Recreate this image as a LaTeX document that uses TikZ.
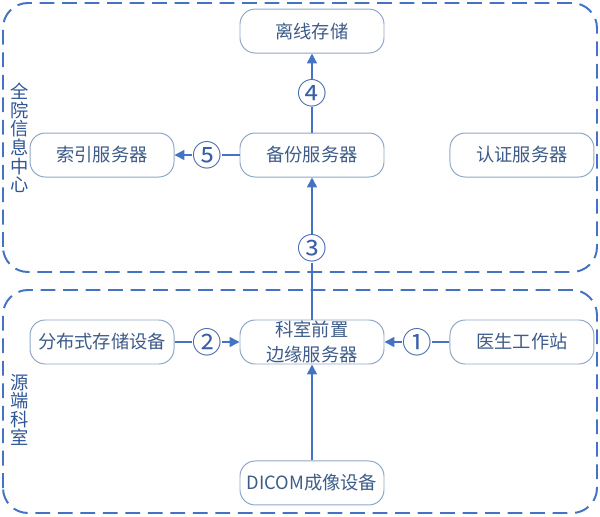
\documentclass[tikz,border=0pt]{standalone}
\usepackage{fontspec}
\setmainfont{Noto Sans CJK SC}
\usetikzlibrary{positioning,arrows.meta}
\definecolor{linkblue}{HTML}{4472C4}
\definecolor{boxline}{HTML}{8EA6C6}
\definecolor{boxtext}{HTML}{3E5C88}
\definecolor{areatext}{HTML}{2F5597}
\definecolor{numtext}{HTML}{3A5FA8}
\begin{document}
\begin{tikzpicture}[node distance={1.625cm}, font=\fontsize{13pt}{15pt}\selectfont,
  main/.style = {draw=boxline, line width=0.7pt, rounded corners=0.38cm, minimum width=3.6cm, minimum height=1.1cm, inner sep=0pt, text=boxtext, align=center},
  link/.style = {draw=linkblue, line width=1.1pt, -{Triangle[length=7pt,width=7pt]}},
  num/.style = {fill=white, inner sep=0.3pt, text=numtext, font=\fontsize{21pt}{21pt}\selectfont},
  area/.style = {draw=linkblue, line width=1.4pt, dash pattern=on 10.5pt off 5.5pt, rounded corners=0.625cm},
  side/.style = {text=areatext, align=center, inner sep=0pt, font=\fontsize{13pt}{13.2pt}\selectfont}]
\useasboundingbox (-7.8,-4.375) rectangle (7.2,8.55);
% areas
\draw[area] (-7.725,1.75) rectangle (7.125,8.475);
\draw[area] (-7.725,-4.275) rectangle (7.125,1.3);
\node[side] (qy) at (-7.3,5.1) {全\\院\\信\\息\\中\\心};
\node[side] (yd) at (-7.3,-1.7) {源\\端\\科\\室};
% boxes
\node[main, font=\fontsize{13pt}{17.5pt}\selectfont] (ks) {科室前置\\边缘服务器};
\node[main] (fb) [left=of ks] {分布式存储设备};
\node[main] (ys) [right=of ks] {医生工作站};
\node[main] (dc) [below=2.4cm of ks] {DICOM成像设备};
\node[main] (bf) [above=3.55cm of ks] {备份服务器};
\node[main] (sy) [left=of bf] {索引服务器};
\node[main] (rz) [right=of bf] {认证服务器};
\node[main] (lx) [above=1.975cm of bf] {离线存储};
% links
\draw[link] (ys) -- node[num]{①} (ks);
\draw[link] (fb) -- node[num]{②} (ks);
\draw[link] (dc) -- (ks);
\draw[link] (ks) -- node[num]{③} (bf);
\draw[link] (bf) -- node[num]{④} (lx);
\draw[link] (bf) -- node[num]{⑤} (sy);
\end{tikzpicture}
\end{document}
